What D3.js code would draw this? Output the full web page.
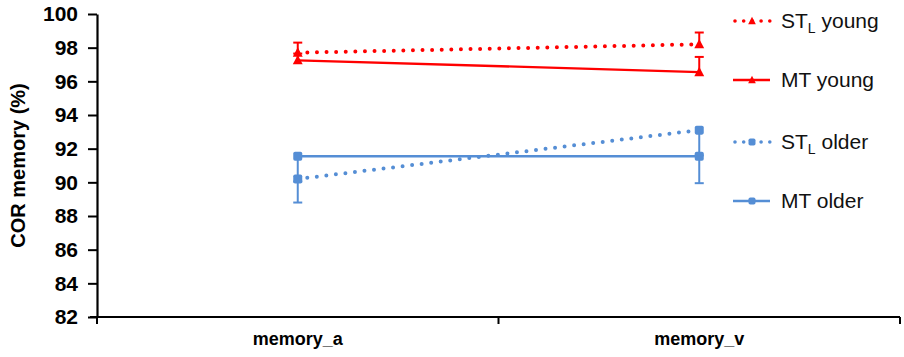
<!DOCTYPE html>
<html lang="en">
  <head>
    <meta charset="UTF-8" />
    <title>COR memory</title>
    <script src="https://d3js.org/d3.v7.min.js"></script>
    <style>
      body {
        margin: 0;
        background: white;
        font-family: 'Liberation Sans', Arial, sans-serif;
      }
      svg {
        display: block;
      }
    </style>
  </head>
  <body>
    <svg width="904" height="357"></svg>

    <script>
      const categories = ['memory_a', 'memory_v'];
      const yTicks = [82, 84, 86, 88, 90, 92, 94, 96, 98, 100];

      // series: mean values and error bar length (young: up, older: down)
      const stlYoung = [97.7, 98.2];
      const stlYoungErr = [0.6, 0.7];
      const mtYoung = [97.25, 96.55];
      const mtYoungErr = [0.4, 0.9];
      const stlOlder = [90.2, 93.1];
      const stlOlderErr = [1.4, 1.5];
      const mtOlder = [91.55, 91.55];
      const mtOlderErr = [1.5, 1.6];

      const red = '#ff0000';
      const blue = '#558ed5';

      const series = [
        { name: 'young', sub: 'L', pre: 'ST', values: stlYoung, err: stlYoungErr, dir: 1, color: red, dotted: true, marker: 'tri' },
        { name: 'MT young', values: mtYoung, err: mtYoungErr, dir: 1, color: red, dotted: false, marker: 'tri' },
        { name: 'older', sub: 'L', pre: 'ST', values: stlOlder, err: stlOlderErr, dir: -1, color: blue, dotted: true, marker: 'sq' },
        { name: 'MT older', values: mtOlder, err: mtOlderErr, dir: -1, color: blue, dotted: false, marker: 'sq' },
      ];

      const svg = d3.select('svg');

      const x = d3.scaleBand().domain(categories).range([97, 900]).padding(0);
      const y = d3.scaleLinear().domain([82, 100]).range([317, 14]);
      const cx = (c) => x(c) + x.bandwidth() / 2;

      // Y axis
      const yAxis = svg
        .append('g')
        .attr('transform', 'translate(97,0)')
        .call(d3.axisLeft(y).tickValues(yTicks).tickSize(9).tickSizeOuter(0).tickPadding(10));
      yAxis.select('.domain').attr('stroke', '#000').attr('stroke-width', 2.2);
      yAxis.selectAll('.tick line').attr('stroke', '#000').attr('stroke-width', 2);
      yAxis
        .selectAll('.tick text')
        .attr('fill', '#000')
        .style('font-family', "'Liberation Sans', Arial, sans-serif")
        .style('font-weight', 'bold')
        .style('font-size', '21px');

      // X axis (ticks at band edges)
      const xg = svg.append('g');
      xg.append('line')
        .attr('x1', 90)
        .attr('x2', x.range()[1])
        .attr('y1', y(82))
        .attr('y2', y(82))
        .attr('stroke', '#000')
        .attr('stroke-width', 2.2);
      const edges = categories.map((c) => x(c)).concat([x.range()[1]]);
      xg.selectAll('.edge')
        .data(edges)
        .join('line')
        .attr('x1', (d) => d)
        .attr('x2', (d) => d)
        .attr('y1', y(82))
        .attr('y2', y(82) + 7)
        .attr('stroke', '#000')
        .attr('stroke-width', 2);
      xg.selectAll('.lab')
        .data(categories)
        .join('text')
        .attr('x', (d) => cx(d))
        .attr('y', 345)
        .attr('text-anchor', 'middle')
        .style('font-weight', 'bold')
        .style('font-size', '18px')
        .text((d) => d);

      // Y axis title
      svg
        .append('text')
        .attr('transform', `translate(25,${(14 + 317) / 2}) rotate(-90)`)
        .attr('text-anchor', 'middle')
        .style('font-weight', 'bold')
        .style('font-size', '20px')
        .text('COR memory (%)');

      const triPath = (s) => `M0,${-s * 0.6}L${s * 0.55},${s * 0.45}L${-s * 0.55},${s * 0.45}Z`;

      function drawMarker(g, s, px, py, size) {
        if (s.marker === 'tri') {
          g.append('path')
            .attr('d', triPath(size))
            .attr('transform', `translate(${px},${py})`)
            .attr('fill', s.color);
        } else {
          g.append('rect')
            .attr('x', px - size / 2)
            .attr('y', py - size / 2)
            .attr('width', size)
            .attr('height', size)
            .attr('rx', 1.8)
            .attr('fill', s.color);
        }
      }

      const plot = svg.append('g');

      // Error bars
      series.forEach((s) => {
        categories.forEach((c, i) => {
          const v = s.values[i];
          const e = v + s.dir * s.err[i];
          plot.append('line')
            .attr('x1', cx(c)).attr('x2', cx(c))
            .attr('y1', y(v)).attr('y2', y(e))
            .attr('stroke', s.color).attr('stroke-width', 2);
          plot.append('line')
            .attr('x1', cx(c) - 4.5).attr('x2', cx(c) + 4.5)
            .attr('y1', y(e)).attr('y2', y(e))
            .attr('stroke', s.color).attr('stroke-width', 2);
        });
      });

      // Lines
      const line = d3
        .line()
        .x((d, i) => cx(categories[i]))
        .y((d) => y(d));

      series.forEach((s) => {
        plot.append('path')
          .attr('d', line(s.values))
          .attr('fill', 'none')
          .attr('stroke', s.color)
          .attr('stroke-width', s.dotted ? 4 : 2.3)
          .attr('stroke-linecap', s.dotted ? 'round' : 'butt')
          .attr('stroke-dasharray', s.dotted ? '0 9.6' : null);
      });

      // Markers
      series.forEach((s) => {
        categories.forEach((c, i) => drawMarker(plot, s, cx(c), y(s.values[i]), 9));
      });

      // Legend
      const legendY = [21, 80, 142, 201];
      const legend = svg.append('g');
      series.forEach((s, i) => {
        const ly = legendY[i];
        legend.append('line')
          .attr('x1', s.dotted ? 735 : 733)
          .attr('x2', 770)
          .attr('y1', ly).attr('y2', ly)
          .attr('stroke', s.color)
          .attr('stroke-width', s.dotted ? 3.6 : 2.3)
          .attr('stroke-linecap', s.dotted ? 'round' : 'butt')
          .attr('stroke-dasharray', s.dotted ? '0 8.7' : null);
        drawMarker(legend, s, 752, ly, 7);

        const t = legend.append('text')
          .attr('x', 781)
          .attr('y', ly + 7)
          .attr('fill', '#111')
          .style('font-size', '21px');
        if (s.sub) {
          t.append('tspan').text(s.pre);
          t.append('tspan').attr('dy', 5).style('font-size', '14px').text(s.sub);
          t.append('tspan').attr('dy', -5).text(' ' + s.name);
        } else {
          t.text(s.name);
        }
      });
    </script>
  </body>
</html>
